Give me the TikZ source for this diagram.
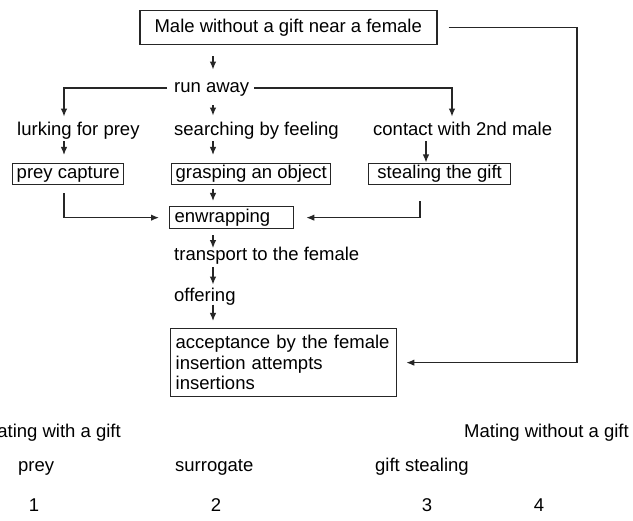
\documentclass[tikz,border=0pt]{standalone}
\usepackage{fontspec}
\setmainfont{Liberation Sans}
\usetikzlibrary{arrows.meta}
\begin{document}
\begin{tikzpicture}[x=1pt,y=-1pt,
  every node/.style={font=\fontsize{18.5}{20.5}\selectfont, text=black},
  txt/.style={inner sep=0pt, text height=13.3pt, text depth=3.9pt, anchor=mid west},
  bx/.style={draw=black!85, line width=1.3pt, anchor=north west, inner xsep=3pt, inner ysep=0pt,
             text height=13.3pt, text depth=3.9pt, align=center},
  arr/.style={draw=black!85, line width=1.3pt, -{Latex[length=8pt,width=6.5pt]}}]
\useasboundingbox (0,0) rectangle (633,521);
\clip (0,0) rectangle (633,521);
\fill[white] (0,0) rectangle (633,521);

\coordinate (c1) at (64,0);
\coordinate (c2) at (213,0);
\coordinate (c3) at (452,0);
\coordinate (c3b) at (426,0);
\coordinate (c3c) at (420,0);
\coordinate (c4) at (577,0);

\node[bx, minimum width=297pt, minimum height=34pt, line width=1.5pt] (top) at (139,10) {Male without a gift near a female};
\node[txt] (run) at (174,90) {run away};
\node[txt] (lurk) at (17,133) {lurking for prey};
\node[txt] (search) at (174,133) {searching by feeling};
\node[txt] (contact) at (373,133) {contact with 2nd male};
\node[bx, minimum width=111pt, minimum height=21pt] (prey) at (12,163) {prey capture};
\node[bx, minimum width=159pt, minimum height=21pt] (grasp) at (171,163) {grasping an object};
\node[bx, minimum width=142pt, minimum height=21pt] (steal) at (368,163) {stealing the gift};
\node[bx, align=left, inner xsep=5pt, text width=114pt, minimum height=22pt] (enw) at (169,206) {enwrapping};
\node[txt] (trans) at (174,258) {transport to the female};
\node[txt] (off) at (174,299) {offering};
\node[draw=black!85, line width=1.3pt, anchor=north west, inner xsep=5pt, inner ysep=4pt, align=left,
      text width=216pt, minimum height=68pt] (acc) at (170,328) {acceptance by the female\\insertion attempts\\insertions};

\node[txt, anchor=mid east] (mwith) at (121,435) {Mating with a gift};
\node[txt] (mwithout) at (464,435) {Mating without a gift};
\node[txt] (lprey) at (18,469) {prey};
\node[txt] (lsurr) at (175,469) {surrogate};
\node[txt] (lsteal) at (375,469) {gift stealing};
\node[txt, anchor=mid] (n1) at (34,509) {1};
\node[txt, anchor=mid] (n2) at (216,509) {2};
\node[txt, anchor=mid] (n3) at (427,509) {3};
\node[txt, anchor=mid] (n4) at (539,509) {4};

\draw[arr, shorten <=11pt, shorten >=9.5pt] (top.south -| c2) -- (run.north -| c2);
\draw[arr, shorten <=7pt, shorten >=5.5pt] (run.west) -| (lurk.north -| c1);
\draw[arr, shorten <=5pt, shorten >=5.5pt] (run.east) -| (contact.north -| c3);
\draw[arr, shorten <=8.3pt, shorten >=6.5pt] (run.south -| c2) -- (search.north -| c2);
\draw[arr, shorten <=1.3pt, shorten >=8pt] (lurk.south -| c1) -- (prey.north -| c1);
\draw[arr, shorten <=1.3pt, shorten >=8pt] (search.south -| c2) -- (grasp.north -| c2);
\draw[arr, shorten <=1.3pt, shorten >=0.5pt] (contact.south -| c3b) -- (steal.north -| c3b);
\draw[arr, shorten <=4pt, shorten >=5pt] (grasp.south -| c2) -- (enw.north -| c2);
\draw[arr, shorten <=8pt, shorten >=10pt] (prey.south -| c1) |- (enw.west);
\draw[arr, shorten <=16pt, shorten >=12pt] (steal.south -| c3c) |- (enw.east);
\draw[arr, shorten <=6pt, shorten >=-1pt] (enw.south -| c2) -- (trans.north -| c2);
\draw[arr, shorten <=2.3pt, shorten >=3.5pt] (trans.south -| c2) -- (off.north -| c2);
\draw[arr, shorten <=-1pt, shorten >=7pt] (off.south -| c2) -- (acc.north -| c2);
\draw[arr, shorten <=11pt, shorten >=9pt] (top.east) -- (top.east -| c4) |- (acc.east);
\end{tikzpicture}
\end{document}
